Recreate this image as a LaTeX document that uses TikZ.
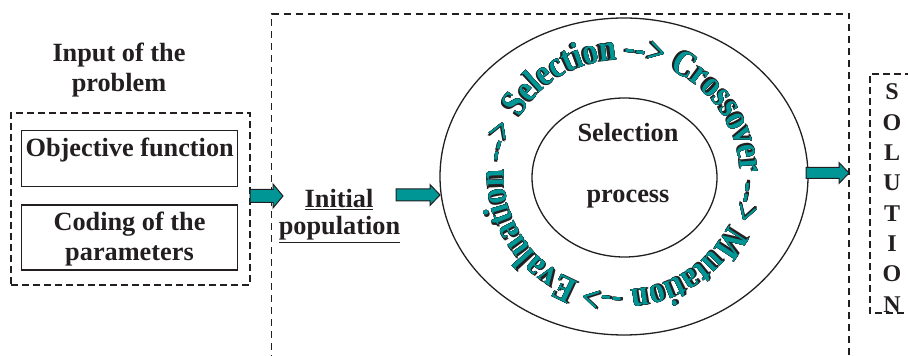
\documentclass[tikz,border=0pt]{standalone}
\usepackage{fontspec}
\setmainfont{Liberation Serif}
\newfontfamily\ringfont{Liberation Serif}[FakeStretch=0.83]
\usetikzlibrary{decorations.text,shapes.geometric,calc}
\definecolor{ink}{RGB}{35,31,32}
\definecolor{tealc}{RGB}{0,150,150}
\newcommand\blockarrow[4]{%
  \draw[barrow] let \p1=(#1), \p2=(#2) in
    (\x1,\y1+#3) -- (\x2-10pt,\y1+#3) -- (\x2-10pt,\y1+#4) -- (\x2,\y1)
    -- (\x2-10pt,\y1-#4) -- (\x2-10pt,\y1-#3) -- (\x1,\y1-#3) -- cycle;}
\begin{document}
\begin{tikzpicture}[x=1pt,y=1pt,
  lbl/.style={font=\fontsize{26.3}{30}\selectfont\bfseries, text=ink, inner sep=0pt},
  sollbl/.style={font=\fontsize{24}{28}\selectfont\bfseries, text=ink, inner sep=0pt},
  frame/.style={draw=ink, line width=1.4pt, dash pattern=on 7pt off 4pt},
  bigframe/.style={draw=ink, line width=1.2pt, dash pattern=on 7pt off 5pt},
  inbox/.style={draw=ink, line width=1.3pt, inner sep=0pt},
  barrow/.style={draw=ink, fill=tealc, line width=1pt},
  ring/.style={draw=ink, line width=1.3pt, ellipse, inner sep=0pt},
  ringdeco/.style={decorate, decoration={text along path, text color=#1,
    text={|\ringfont\bfseries\fontsize{37}{37}\selectfont|Selection --> Crossover --> Mutation --> Evaluation -->}}}]
\useasboundingbox (0,0) rectangle (908,356);

% title
\node[lbl, anchor=base] (title1) at (119,294) {Input of the};
\node[lbl, anchor=base] (title2) at (119,264) {problem};

% input box
\node[frame, minimum width=239pt, minimum height=172pt, inner sep=0pt] (inputbox) at (130.5,157) {};
\node[inbox, minimum width=216pt, minimum height=56pt] (objbox) at (129.7,197.3) {};
\node[lbl, anchor=base] (objtxt) at (129.7,199.3) {Objective function};
\node[inbox, minimum width=216pt, minimum height=65pt] (codbox) at (129.7,118.5) {};
\node[lbl, anchor=base] (cod1) at (129.5,125) {Coding of the};
\node[lbl, anchor=base] (cod2) at (129.5,95) {parameters};

% big frame
\draw[bigframe] (271.5,-6) -- (271.5,342) -- (849,342) -- (849,-6);

% initial population
\node[lbl, anchor=base] (init1) at (339,148) {\underline{Initial}};
\node[lbl, anchor=base] (init2) at (339.5,121) {\underline{population}};

% ellipses
\node[ring, minimum width=368pt, minimum height=317pt] (outer) at (624,179.5) {};
\node[ring, minimum width=185pt, minimum height=159pt] (inner) at (624.5,178.5) {};
\node[lbl, anchor=base] (sel) at (628,214) {Selection};
\node[lbl, anchor=base] (proc) at (628,153) {process};

% ring text: extruded shadow, outline, teal face
\coordinate (ringc) at (622,181);
\foreach \da in {0.35,0.7,1.05}{
  \path[ringdeco=ink]
    (ringc) ++({150+\da}:118 and 115) arc[start angle=150+\da, end angle=-215+\da, x radius=118, y radius=115];
}
\foreach \dx/\dy in {0.7/0,-0.7/0,0/0.7,0/-0.7,0.5/0.5,-0.5/0.5,0.5/-0.5,-0.5/-0.5}{
  \path[shift={(\dx,\dy)}, ringdeco=ink]
    (ringc) ++(150:118 and 115) arc[start angle=150, end angle=-215, x radius=118, y radius=115];
}
\path[ringdeco=tealc]
    (ringc) ++(150:118 and 115) arc[start angle=150, end angle=-215, x radius=118, y radius=115];

% block arrows
\coordinate (a1s) at (250,160); \coordinate (a1e) at (283,160);
\coordinate (a2s) at (396,161); \coordinate (a2e) at (440,161);
\coordinate (a3s) at (806,183); \coordinate (a3e) at (849,183);
\blockarrow{a1s}{a1e}{6.5}{12}
\blockarrow{a2s}{a2e}{6}{10.5}
\blockarrow{a3s}{a3e}{5.5}{10.5}

% solution
\draw[frame] (912,282) -- (870,282) -- (870,43) -- (912,43);
\foreach \ch [count=\i from 0] in {S,O,L,U,T,I,O,N}{
  \node[sollbl, anchor=base] (sol\i) at (892,256-30.3*\i) {\ch};
}
\end{tikzpicture}
\end{document}
